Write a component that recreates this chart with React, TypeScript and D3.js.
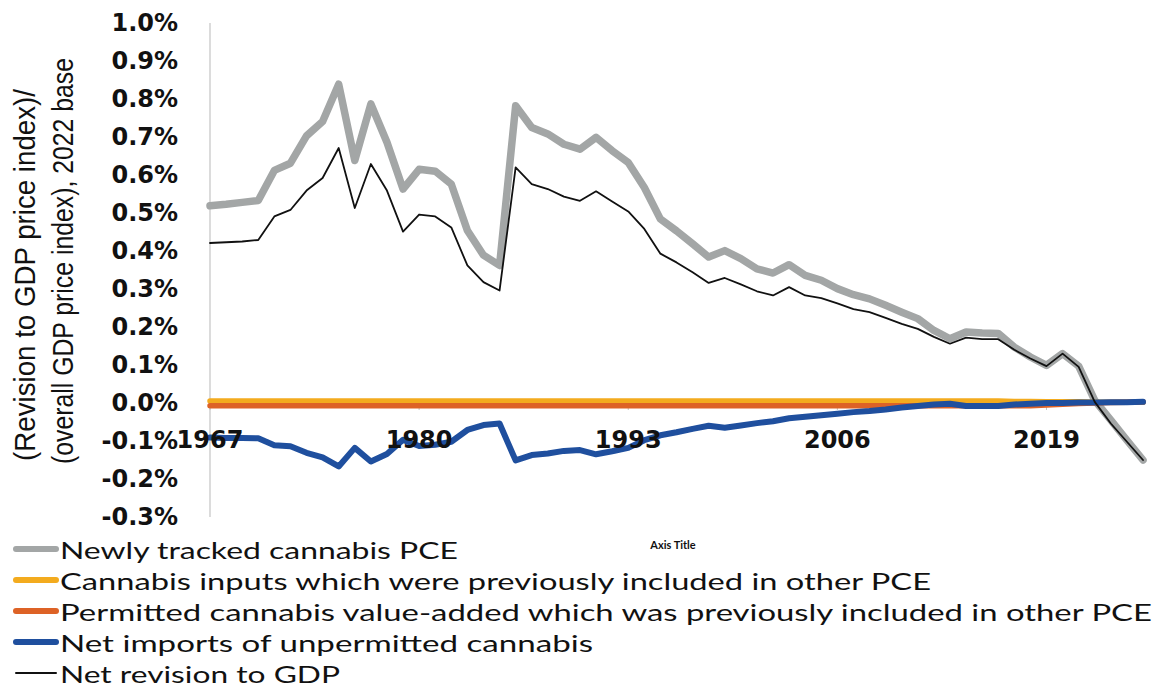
import React from "react";
import * as d3 from "d3";

// Years on the category axis
const years: number[] = [
  1967, 1968, 1969, 1970, 1971, 1972, 1973, 1974, 1975, 1976,
  1977, 1978, 1979, 1980, 1981, 1982, 1983, 1984, 1985, 1986,
  1987, 1988, 1989, 1990, 1991, 1992, 1993, 1994, 1995, 1996,
  1997, 1998, 1999, 2000, 2001, 2002, 2003, 2004, 2005, 2006,
  2007, 2008, 2009, 2010, 2011, 2012, 2013, 2014, 2015, 2016,
  2017, 2018, 2019, 2020, 2021, 2022, 2023, 2024, 2025,
];

// Values in percent of the overall GDP price index
const newlyTracked: number[] = [
  0.519, 0.523, 0.528, 0.533, 0.612, 0.631, 0.703, 0.741, 0.839, 0.638,
  0.787, 0.686, 0.563, 0.615, 0.610, 0.576, 0.454, 0.389, 0.362, 0.782,
  0.725, 0.708, 0.681, 0.668, 0.699, 0.664, 0.633, 0.567, 0.484, 0.453,
  0.419, 0.384, 0.401, 0.380, 0.353, 0.342, 0.364, 0.336, 0.323, 0.301,
  0.285, 0.274, 0.257, 0.239, 0.222, 0.191, 0.169, 0.187, 0.184, 0.183,
  0.147, 0.121, 0.099, 0.130, 0.097, 0.007, -0.045, -0.098, -0.150,
];

const inputsPrevIncluded: number[] = [
  0.005, 0.005, 0.005, 0.005, 0.005, 0.005, 0.005, 0.005, 0.005, 0.005,
  0.005, 0.005, 0.005, 0.005, 0.005, 0.005, 0.005, 0.005, 0.005, 0.005,
  0.005, 0.005, 0.005, 0.005, 0.005, 0.005, 0.005, 0.005, 0.005, 0.005,
  0.005, 0.005, 0.005, 0.005, 0.005, 0.005, 0.005, 0.005, 0.005, 0.005,
  0.005, 0.005, 0.005, 0.005, 0.005, 0.005, 0.005, 0.005, 0.005, 0.005,
  0.004, 0.004, 0.003, 0.003, 0.003, 0.002, 0.002, 0.002, 0.002,
];

const valueAddedPrevIncluded: number[] = [
  -0.007, -0.007, -0.007, -0.007, -0.007, -0.007, -0.007, -0.007, -0.007, -0.007,
  -0.007, -0.007, -0.007, -0.007, -0.007, -0.007, -0.007, -0.007, -0.007, -0.007,
  -0.007, -0.007, -0.007, -0.007, -0.007, -0.007, -0.007, -0.007, -0.007, -0.007,
  -0.007, -0.007, -0.007, -0.007, -0.007, -0.007, -0.007, -0.007, -0.007, -0.007,
  -0.007, -0.007, -0.007, -0.007, -0.007, -0.007, -0.007, -0.007, -0.007, -0.007,
  -0.007, -0.007, -0.005, -0.003, -0.001, 0.000, 0.001, 0.002, 0.003,
];

const netImports: number[] = [
  -0.091, -0.092, -0.092, -0.093, -0.111, -0.114, -0.131, -0.143, -0.167, -0.118,
  -0.154, -0.134, -0.097, -0.113, -0.110, -0.102, -0.071, -0.058, -0.054, -0.151,
  -0.137, -0.133, -0.126, -0.124, -0.135, -0.127, -0.118, -0.098, -0.085, -0.077,
  -0.068, -0.060, -0.065, -0.059, -0.053, -0.048, -0.040, -0.036, -0.032, -0.028,
  -0.024, -0.021, -0.017, -0.012, -0.008, -0.004, -0.002, -0.008, -0.008, -0.008,
  -0.004, -0.002, 0.000, 0.000, 0.001, 0.001, 0.002, 0.002, 0.003,
];

const netRevision: number[] = [
  0.421, 0.423, 0.425, 0.429, 0.491, 0.508, 0.559, 0.592, 0.671, 0.513,
  0.629, 0.559, 0.451, 0.496, 0.491, 0.462, 0.362, 0.318, 0.296, 0.620,
  0.576, 0.563, 0.543, 0.532, 0.557, 0.530, 0.504, 0.458, 0.393, 0.370,
  0.344, 0.316, 0.329, 0.312, 0.294, 0.283, 0.305, 0.283, 0.276, 0.262,
  0.247, 0.239, 0.224, 0.208, 0.195, 0.174, 0.156, 0.172, 0.168, 0.168,
  0.140, 0.117, 0.097, 0.130, 0.095, 0.003, -0.054, -0.102, -0.150,
];

const seriesNames: string[] = [
  "Newly tracked cannabis PCE",
  "Cannabis inputs which were previously included in other PCE",
  "Permitted cannabis value-added which was previously included in other PCE",
  "Net imports of unpermitted cannabis",
  "Net revision to GDP",
];

const xTickLabels: number[] = [1967, 1980, 1993, 2006, 2019];
const yTicks: number[] = [1.0, 0.9, 0.8, 0.7, 0.6, 0.5, 0.4, 0.3, 0.2, 0.1, 0.0, -0.1, -0.2, -0.3];

const W = 1157;
const H = 687;
const LEFT = 210;
const RIGHT = 1143;
const TOP = 23;
const BOTTOM = 517;

const styles = [
  { color: "#a3a6a6", width: 7.5 },
  { color: "#f3ab1e", width: 5.5 },
  { color: "#dd6226", width: 5.5 },
  { color: "#1f4f9e", width: 6 },
  { color: "#111111", width: 1.8 },
];

// Legend text widths in px
const legendWidths = [398, 871, 1092, 533, 280];

export default function App() {
  const x = d3.scalePoint<number>().domain(years).range([LEFT, RIGHT]);
  const y = d3.scaleLinear().domain([-0.3, 1.0]).range([BOTTOM, TOP]);

  const line = d3
    .line<number>()
    .x((_, i) => x(years[i]) as number)
    .y((v) => y(v));

  const allSeries = [newlyTracked, inputsPrevIncluded, valueAddedPrevIncluded, netImports, netRevision];
  const y0 = y(0);

  return (
    <svg
      width={W}
      height={H}
      viewBox={`0 0 ${W} ${H}`}
      style={{ position: "absolute", left: 0, top: 0, background: "#fff" }}
    >
      <rect x={0} y={0} width={W} height={H} fill="#fff" />

      {/* y axis title */}
      <text
        transform={`translate(25,${275}) rotate(-90)`}
        textAnchor="middle"
        dominantBaseline="central"
        fontFamily="'Liberation Sans Narrow', 'Liberation Sans', Arial, sans-serif"
        fontSize={29}
        textLength={372}
        lengthAdjust="spacingAndGlyphs"
        fill="#111"
      >
        (Revision to GDP price index)/
      </text>
      <text
        transform={`translate(63,${261}) rotate(-90)`}
        textAnchor="middle"
        dominantBaseline="central"
        fontFamily="'Liberation Sans Narrow', 'Liberation Sans', Arial, sans-serif"
        fontSize={29}
        textLength={406}
        lengthAdjust="spacingAndGlyphs"
        fill="#111"
      >
        (overall GDP price index), 2022 base
      </text>

      {/* y tick labels */}
      {yTicks.map((t) => (
        <text
          key={t}
          x={178}
          y={y(t)}
          textAnchor="end"
          dominantBaseline="central"
          fontFamily="'DejaVu Sans', Verdana, sans-serif"
          fontWeight="bold"
          fontSize={24}
          fill="#111"
        >
          {`${t.toFixed(1)}%`}
        </text>
      ))}

      {/* axes */}
      <line x1={LEFT} x2={LEFT} y1={TOP} y2={BOTTOM} stroke="#c4c4c4" strokeWidth={1.2} />
      <line x1={LEFT} x2={RIGHT} y1={y0} y2={y0} stroke="#c4c4c4" strokeWidth={1} />
      {xTickLabels.map((yr) => (
        <line
          key={`t${yr}`}
          x1={x(yr) as number}
          x2={x(yr) as number}
          y1={y0}
          y2={y0 + 7}
          stroke="#c4c4c4"
          strokeWidth={1}
        />
      ))}

      {/* series */}
      {allSeries.map((s, i) => (
        <path
          key={seriesNames[i]}
          d={line(s) || ""}
          fill="none"
          stroke={styles[i].color}
          strokeWidth={styles[i].width}
          strokeLinejoin="round"
          strokeLinecap="round"
        />
      ))}

      {/* category labels */}
      {xTickLabels.map((yr) => (
        <text
          key={`l${yr}`}
          x={x(yr) as number}
          y={440}
          textAnchor="middle"
          dominantBaseline="central"
          fontFamily="'DejaVu Sans', Verdana, sans-serif"
          fontWeight="bold"
          fontSize={24}
          fill="#111"
        >
          {yr}
        </text>
      ))}

      {/* axis title placeholder */}
      <text
        x={673}
        y={544}
        textAnchor="middle"
        dominantBaseline="central"
        fontFamily="Lato, 'Liberation Sans', sans-serif"
        fontWeight="bold"
        fontSize={11}
        fill="#111"
      >
        Axis Title
      </text>

      {/* legend */}
      {seriesNames.map((name, i) => {
        const ry = 549 + i * 31;
        return (
          <g key={`lg${i}`}>
            <line
              x1={16}
              x2={56}
              y1={ry}
              y2={ry}
              stroke={styles[i].color}
              strokeWidth={i === 4 ? 2 : 6}
              strokeLinecap="round"
            />
            <text
              x={60}
              y={ry}
              dominantBaseline="central"
              fontFamily="Lato, 'Liberation Sans', sans-serif"
              fontSize={24}
              textLength={legendWidths[i]}
              lengthAdjust="spacingAndGlyphs"
              fill="#111"
            >
              {name}
            </text>
          </g>
        );
      })}
    </svg>
  );
}
